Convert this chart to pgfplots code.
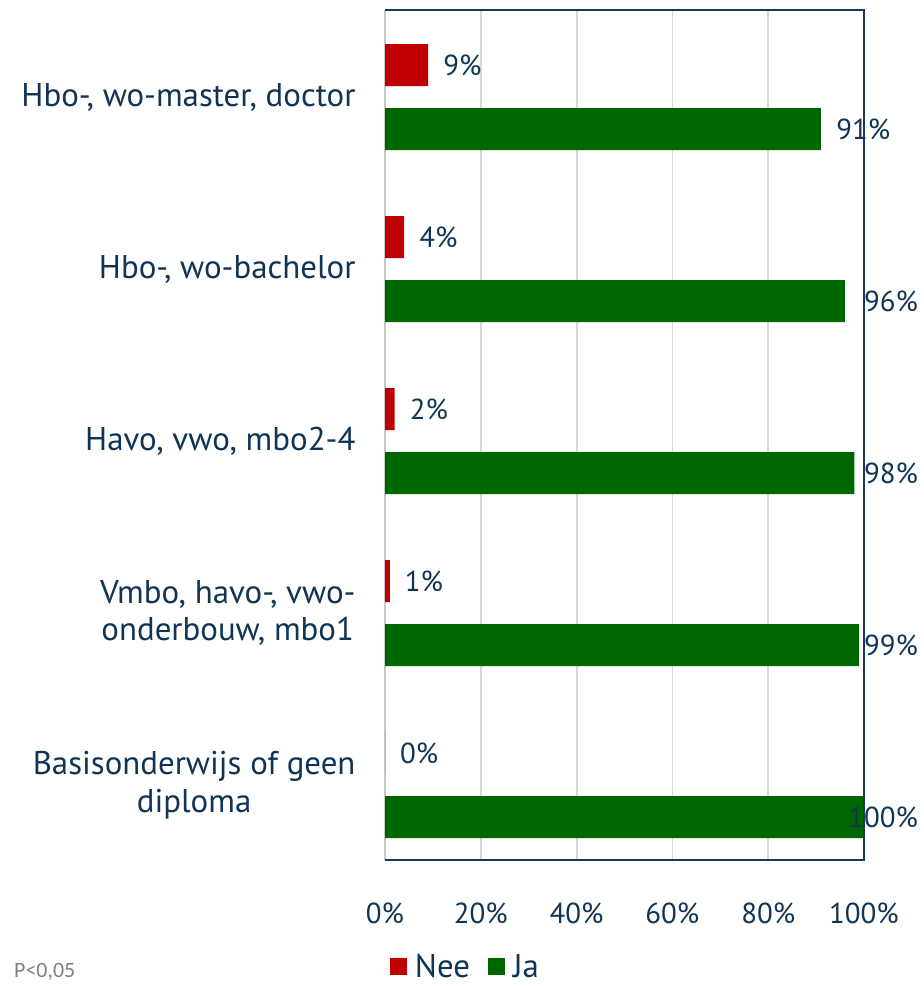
\documentclass[border=0pt]{standalone}
\usepackage{fontspec}
\setmainfont{PT Sans}
\newfontfamily\pfont{Carlito}
\usepackage{pgfplots}
\pgfplotsset{compat=1.18}
\definecolor{navy}{HTML}{0F3455}
\definecolor{framec}{HTML}{17375E}
\definecolor{nee}{HTML}{C00000}
\definecolor{ja}{HTML}{006600}
\definecolor{gridc}{HTML}{D9D9D9}
\begin{document}
\begin{tikzpicture}[x=1bp,y=1bp]
\useasboundingbox (0,0) rectangle (924,986);
\begin{axis}[
  at={(385bp,126bp)}, anchor=south west,
  scale only axis, width=479bp, height=850bp,
  xmin=0, xmax=100, ymin=-0.436, ymax=4.506,
  bar width=42bp,
  clip=false,
  /pgf/number format/assume math mode=true,
  font=\fontsize{29}{38}\selectfont,
  xtick={0,20,40,60,80,100},
  xticklabels={0\%,20\%,40\%,60\%,80\%,100\%},
  xticklabel style={text=navy, anchor=north, yshift=-39bp},
  ytick={0,1,2,3,4},
  yticklabels={{Basisonderwijs of geen\\diploma},{Vmbo, havo-, vwo-\\onderbouw, mbo1},{Havo, vwo, mbo2-4},{Hbo-, wo-bachelor},{Hbo-, wo-master, doctor}},
  yticklabel style={text=navy, align=center, anchor=east, xshift=-26bp, font=\fontsize{33}{38}\selectfont},
  major tick length=0pt,
  xmajorgrids, major grid style={gridc, line width=1.8bp},
  axis line style={draw=none},
  legend style={at={(0.168,-0.125)}, anchor=center, draw=none, fill=none, legend columns=2, text=navy,
    font=\fontsize{33}{36}\selectfont, inner sep=0pt,
    /tikz/every odd column/.append style={column sep=6bp},
    /tikz/every even column/.append style={column sep=16bp}},
  legend image code/.code={\fill[#1] (0bp,-8.5bp) rectangle (17bp,8.5bp);},
  legend cell align=left,
]
\draw[gridc!80!gray, line width=1.5bp] (axis cs:0,-0.436) -- (axis cs:0,4.506);
\addplot[xbar, fill=nee, draw=none, bar shift=32bp]
  coordinates {(0,0) (1,1) (2,2) (4,3) (9,4)};
\addlegendentry{Nee}
\addplot[xbar, fill=ja, draw=none, bar shift=-32bp]
  coordinates {(100,0) (99,1) (98,2) (96,3) (91,4)};
\addlegendentry{Ja}
% Nee value labels
\addplot[draw=none, mark=none, forget plot, nodes near coords, point meta=explicit symbolic,
  nodes near coords align={center},
  nodes near coords style={anchor=west, xshift=15bp, text=navy, inner sep=0pt}]
  table[meta=lab] {
x y lab
0 0.186 0\%
1 1.186 1\%
2 2.186 2\%
4 3.186 4\%
9 4.186 9\%
};
% Ja value labels
\addplot[draw=none, mark=none, forget plot, nodes near coords, point meta=explicit symbolic,
  nodes near coords align={center},
  nodes near coords style={anchor=east, text=navy, inner sep=0pt}]
  table[meta=lab] {
x y lab
111.3 -0.186 100\%
111.3 0.814 99\%
111.3 1.814 98\%
111.3 2.814 96\%
105.5 3.814 91\%
};
\draw[framec, line width=1.5bp] (axis cs:0,-0.436) -- (axis cs:100,-0.436) -- (axis cs:100,4.506) -- (axis cs:0,4.506);
\end{axis}
\node[anchor=west, text=gray, inner sep=0pt] at (14,14) {\pfont\fontsize{22}{26}\selectfont P<0,05};
\end{tikzpicture}
\end{document}
